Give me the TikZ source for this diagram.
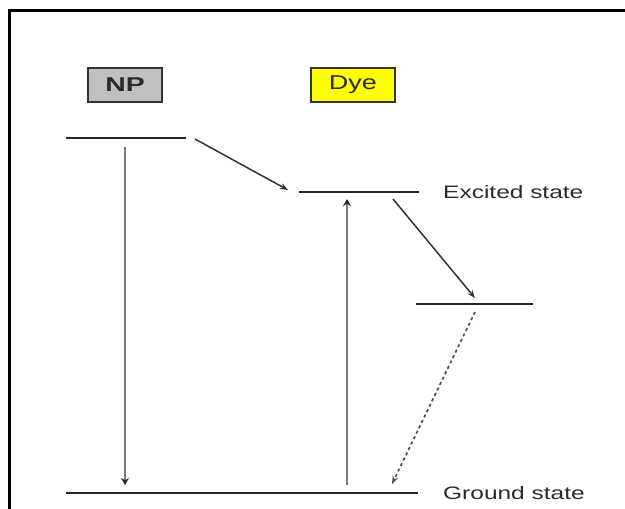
\documentclass[tikz,border=0pt]{standalone}
\usepackage{fontspec}
\setmainfont{Liberation Sans}
\usetikzlibrary{arrows.meta}
\definecolor{npgray}{HTML}{C0C0C0}
\definecolor{dyeyellow}{HTML}{FFFF00}
\definecolor{txt}{HTML}{2A2A2A}
\definecolor{vgray}{HTML}{7A7A7A}
\begin{document}
\begin{tikzpicture}[x=1pt,y=-1pt,
  tagbox/.style={draw=black!80,line width=1.6pt,inner sep=0pt,minimum height=34pt,text=txt,font=\fontsize{20}{22}\selectfont},
  lab/.style={anchor=west,inner sep=0pt,text=txt,font=\fontsize{18}{20}\selectfont},
  level/.style={line width=1.5pt,black!85},
  diag/.style={line width=1.5pt,black!80,-{Stealth[length=8pt,width=6pt]}},
  vert/.style={line width=2.3pt,vgray,-{Stealth[length=7pt,width=8pt,color=black!85]}},
  dotarrow/.style={line width=1.7pt,black!70,dash pattern=on 3pt off 3pt,-{Stealth[length=8pt,width=6pt]}}]
\useasboundingbox (0,0) rectangle (625,509);
\clip (0,0) rectangle (625,509);
\fill[white] (0,0) rectangle (625,509);
% frame
\draw[line width=3pt,black] (9,700) -- (9,10) -- (800,10);
% labels
\node[tagbox,fill=npgray,minimum width=74pt] (np) at (125,85) {\scalebox{1.42}[1]{\bfseries NP}};
\node[tagbox,fill=dyeyellow,minimum width=84pt] (dye) at (353,85) {\scalebox{1.35}[1]{Dye}};
% level coordinates
\coordinate (npL) at (66,138);  \coordinate (npR) at (186,138);
\coordinate (exL) at (299,192); \coordinate (exR) at (419,192);
\coordinate (loL) at (416,304); \coordinate (loR) at (533,304);
\coordinate (gsL) at (66,493);  \coordinate (gsR) at (418,493);
\draw[level] (npL) -- (npR);
\draw[level] (exL) -- (exR);
\draw[level] (loL) -- (loR);
\draw[level] (gsL) -- (gsR);
\node[lab] (exlab) at (443,192) {\scalebox{1.36}[1]{Excited state}};
\node[lab] (gslab) at (443,493) {\scalebox{1.36}[1]{Ground state}};
% arrow end points
\coordinate (a1s) at (195,139); \coordinate (a1e) at (288,190);
\coordinate (a2s) at (393,199); \coordinate (a2e) at (475,298);
\coordinate (a3s) at (475,312); \coordinate (a3e) at (392,484);
\coordinate (v1s) at (125,147); \coordinate (v1e) at (125,485);
\coordinate (v2s) at (347,485); \coordinate (v2e) at (347,199);
\draw[diag] (a1s) -- (a1e);
\draw[diag] (a2s) -- (a2e);
\draw[dotarrow] (a3s) -- (a3e);
\draw[vert] (v1s) -- (v1e);
\draw[vert] (v2s) -- (v2e);
\end{tikzpicture}
\end{document}
